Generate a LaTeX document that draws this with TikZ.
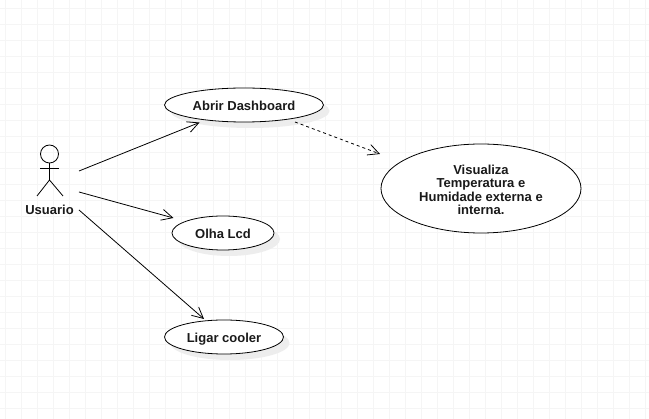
\documentclass[tikz,border=0pt]{standalone}
\usepackage{fontspec}
\setmainfont{Liberation Sans}
\usetikzlibrary{shapes.geometric,arrows.meta}
\definecolor{gridc}{HTML}{F5F5F5}
\definecolor{shadowc}{HTML}{EDEDED}
\definecolor{inkc}{HTML}{1A1A1A}
\tikzset{
  gridline/.style={draw=gridc,line width=1pt},
  usecase/.style={ellipse,draw=black,line width=0.8pt,fill=white,inner sep=0pt,align=center,
    font=\fontsize{13}{13.2}\selectfont\bfseries,text=inkc},
  singleline/.style={text height=12pt,text depth=0pt},
  ushadow/.style={ellipse,fill=shadowc,inner sep=0pt},
  assoc/.style={draw=black,line width=0.8pt,-{Straight Barb[length=11pt,width=11pt,line width=0.8pt]}},
  depend/.style={assoc,dash pattern=on 3pt off 3pt},
  stick/.style={draw=black,line width=0.8pt},
  actorlabel/.style={font=\fontsize{13}{14}\selectfont\bfseries,text=inkc,inner sep=0pt}
}
\begin{document}
\begin{tikzpicture}[x=1pt,y=-1pt]
\useasboundingbox (0,0) rectangle (649,419);
\fill[white] (0,0) rectangle (649,419);
\foreach \gx in {5.5,21.5,...,645.5} \draw[gridline] (\gx,0) -- (\gx,419);
\foreach \gy in {8.5,24.5,...,416.5} \draw[gridline] (0,\gy) -- (649,\gy);
% shadows
\node[ushadow,minimum width=159pt,minimum height=34pt] at (250,111) {};
\node[ushadow,minimum width=102pt,minimum height=34pt] at (229,239) {};
\node[ushadow,minimum width=119pt,minimum height=34pt] at (230,343) {};
% use cases
\node[usecase,singleline,minimum width=159pt,minimum height=34pt] (abrir) at (244,105) {Abrir Dashboard};
\node[usecase,minimum width=200pt,minimum height=89pt] (visual) at (481,188.5) {\raisebox{0pt}[33pt][20pt]{\begin{tabular}{@{}c@{}}Visualiza\\Temperatura e\\Humidade externa e\\interna.\end{tabular}}};
\node[usecase,singleline,minimum width=102pt,minimum height=34pt] (olha) at (223,233) {Olha Lcd};
\node[usecase,singleline,minimum width=119pt,minimum height=34pt] (ligar) at (224,337) {Ligar cooler};
% actor
\node[circle,draw=black,line width=0.8pt,minimum size=18pt,inner sep=0pt] (head) at (49.5,154) {};
\coordinate (hip) at (49.5,180);
\coordinate (armL) at (40,168.7);
\coordinate (armR) at (59,168.7);
\coordinate (footL) at (37,196);
\coordinate (footR) at (63,196);
\draw[stick] (head.south) -- (hip);
\draw[stick] (armL) -- (armR);
\draw[stick] (footL) -- (hip) -- (footR);
\node[actorlabel] (usuario) at (49.5,210) {Usuario};
% connectors
\coordinate (s1) at (79,171);
\coordinate (e1) at (199.5,122.5);
\coordinate (s2) at (79,192);
\coordinate (e2) at (173.5,218);
\coordinate (s3) at (79,210);
\coordinate (e3) at (204,319);
\coordinate (s4) at (295,122);
\coordinate (e4) at (380,154);
\draw[assoc] (s1) -- (e1);
\draw[assoc] (s2) -- (e2);
\draw[assoc] (s3) -- (e3);
\draw[depend] (s4) -- (e4);
\end{tikzpicture}
\end{document}
